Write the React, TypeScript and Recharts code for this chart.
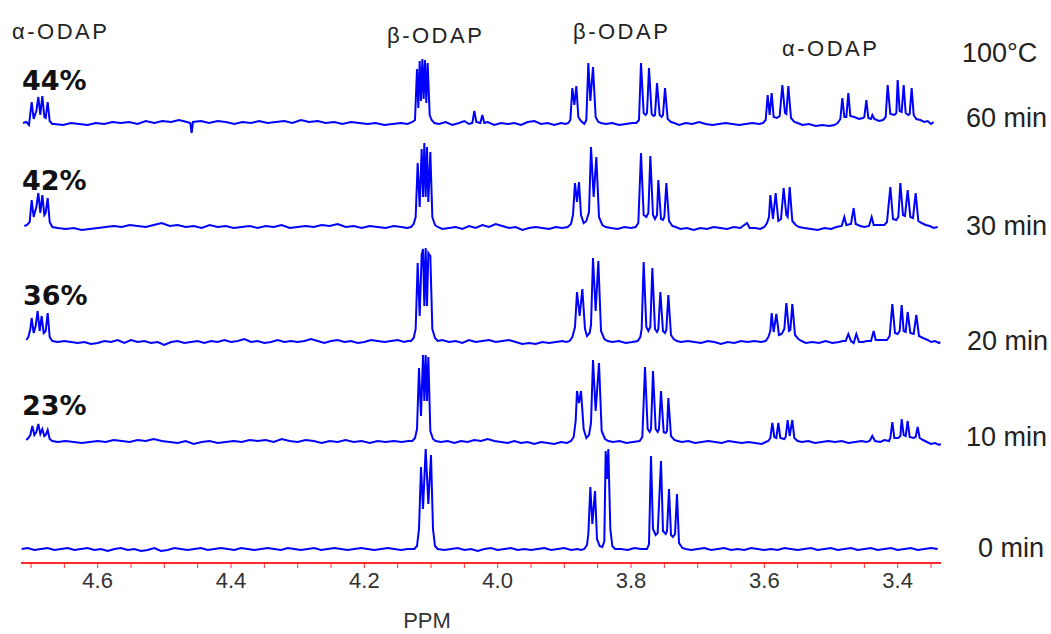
import React from 'react';
import { LineChart, Line, XAxis, YAxis } from 'recharts';

// x-axis ticks (ppm), labels shown on the 0.2 multiples
const X_TICKS = [4.7, 4.65, 4.6, 4.55, 4.5, 4.45, 4.4, 4.35, 4.3, 4.25, 4.2, 4.15, 4.1, 4.05, 4.0, 3.95, 3.9, 3.85, 3.8, 3.75, 3.7, 3.65, 3.6, 3.55, 3.5, 3.45, 3.4, 3.35];

const SPECTRUM_LABELS = ['60 min', '30 min', '20 min', '10 min', '0 min'];
const CONVERSION_LABELS = ['44%', '42%', '36%', '23%'];
const PEAK_LABELS = ['α-ODAP', 'β-ODAP', 'β-ODAP', 'α-ODAP'];
const TEMPERATURE = '100°C';
const X_TITLE = 'PPM';

// ---------- 60 min ----------
const peaks60: number[][] = [
  [4.712, 0], [4.707, 1], [4.703, -2], [4.699, 21], [4.696, 4], [4.692, 12], [4.689, 26], [4.686, 8], [4.683, 27], [4.680, 6], [4.678, 5], [4.675, 21], [4.672, 2], [4.668, -1],
  [4.128, 1], [4.124, 3], [4.121, 54], [4.119, 15], [4.117, 62], [4.115, 22], [4.113, 64], [4.111, 24], [4.109, 63], [4.107, 20], [4.105, 60], [4.102, 8], [4.099, 3], [4.095, 0],
  [4.038, 0], [4.035, 12], [4.032, 1], [4.026, 0], [4.023, 8], [4.020, 0],
  [3.894, 0], [3.891, 3], [3.888, 35], [3.885, 18], [3.882, 37], [3.879, 6], [3.875, 2], [3.870, -1], [3.867, 3], [3.864, 60], [3.861, 22], [3.857, 56], [3.853, 6], [3.849, 1], [3.845, 0],
  [3.792, 0], [3.788, 3], [3.785, 60], [3.781, 10], [3.778, 8], [3.776, 10], [3.773, 55], [3.769, 9], [3.766, 7], [3.764, 8], [3.761, 40], [3.757, 8], [3.754, 6], [3.752, 8], [3.749, 35], [3.745, 4], [3.740, 1], [3.735, 0],
  [3.602, 0], [3.598, 3], [3.595, 28], [3.592, 8], [3.589, 30], [3.586, 6], [3.581, 5], [3.577, 7], [3.573, 38], [3.569, 10], [3.567, 9], [3.564, 37], [3.560, 5], [3.555, 1], [3.550, 0],
  [3.490, 0], [3.486, 4], [3.483, 25], [3.480, 6], [3.477, 6], [3.474, 30], [3.471, 7], [3.465, 6], [3.458, 4], [3.452, 5], [3.450, 6], [3.447, 23], [3.444, 5], [3.440, 4], [3.438, 8], [3.435, 4],
  [3.422, 3], [3.418, 6], [3.415, 38], [3.411, 9], [3.405, 8], [3.402, 10], [3.400, 43], [3.397, 12], [3.394, 11], [3.391, 38], [3.388, 10], [3.384, 8], [3.382, 9], [3.379, 35], [3.376, 8], [3.372, 4], [3.366, 3], [3.360, 1],
];
const base60: number[][] = [
  [4.665, -1], [4.652, -2], [4.640, 0], [4.628, -1], [4.615, -2], [4.603, 0], [4.590, -1], [4.578, 1], [4.565, 0], [4.553, 1], [4.540, -1], [4.528, 2], [4.515, 0], [4.503, 2], [4.490, 1], [4.478, 3], [4.466, 1], [4.461, 0], [4.459, -10], [4.457, 1], [4.445, 2], [4.433, 0], [4.420, 2], [4.408, 1], [4.395, -1], [4.383, 1], [4.370, 0], [4.358, 2], [4.345, 0], [4.333, 1], [4.320, 2], [4.308, 0], [4.295, 3], [4.283, 1], [4.270, 2], [4.258, 0], [4.245, 1], [4.233, -1], [4.220, 1], [4.208, 0], [4.195, -1], [4.183, 0], [4.170, -2], [4.158, -1], [4.145, 0], [4.135, -1],
  [4.088, -1], [4.078, 1], [4.068, -2], [4.058, 0], [4.050, 2], [4.043, -1],
  [4.015, 1], [4.005, -2], [3.995, 0], [3.985, -1], [3.975, 0], [3.965, -2], [3.955, 1], [3.945, 2], [3.935, -1], [3.925, 0], [3.915, -2], [3.905, 0], [3.898, -1],
  [3.838, -1], [3.828, 0], [3.818, -2], [3.808, -1], [3.798, 0],
  [3.728, -2], [3.718, 0], [3.708, -1], [3.698, 1], [3.688, -1], [3.678, -2], [3.668, -1], [3.658, 0], [3.648, -1], [3.638, -2], [3.628, -1], [3.618, 0], [3.608, -1],
  [3.543, -2], [3.533, -1], [3.523, -3], [3.513, -2], [3.503, -3], [3.495, -2],
  [3.428, 2],
  [3.355, 2], [3.350, -1], [3.346, 1],
];

// ---------- 30 min ----------
const peaks30: number[][] = [
  [4.710, 1], [4.706, 2], [4.702, 5], [4.699, 27], [4.696, 10], [4.692, 20], [4.689, 34], [4.686, 14], [4.683, 32], [4.680, 12], [4.678, 14], [4.675, 29], [4.672, 5], [4.668, 0],
  [4.130, 0], [4.126, 3], [4.123, 10], [4.120, 64], [4.117, 20], [4.114, 78], [4.112, 30], [4.110, 84], [4.108, 30], [4.106, 80], [4.104, 25], [4.101, 75], [4.098, 10], [4.094, 2], [4.090, 0],
  [3.895, 0], [3.890, 3], [3.887, 12], [3.884, 44], [3.881, 25], [3.878, 45], [3.875, 12], [3.871, 4], [3.867, 6], [3.863, 15], [3.860, 80], [3.856, 30], [3.852, 70], [3.848, 10], [3.843, 2], [3.838, 0],
  [3.793, 0], [3.789, 4], [3.785, 74], [3.781, 12], [3.777, 10], [3.774, 14], [3.771, 71], [3.767, 12], [3.764, 8], [3.761, 12], [3.759, 47], [3.755, 8], [3.752, 7], [3.750, 10], [3.747, 44], [3.743, 6], [3.738, 1], [3.733, 0],
  [3.600, 0], [3.596, 4], [3.593, 10], [3.591, 32], [3.587, 8], [3.583, 34], [3.579, 6], [3.575, 8], [3.571, 39], [3.567, 12], [3.565, 10], [3.562, 40], [3.558, 6], [3.553, 2], [3.548, 0],
  [3.484, 1], [3.480, 10], [3.477, 2], [3.470, 3], [3.466, 19], [3.463, 3], [3.443, 1], [3.439, 10], [3.436, 2],
  [3.420, 2], [3.416, 5], [3.411, 40], [3.407, 8], [3.402, 7], [3.399, 10], [3.396, 44], [3.392, 12], [3.389, 11], [3.385, 37], [3.381, 10], [3.377, 9], [3.373, 34], [3.369, 6], [3.364, 4], [3.358, 2],
];
const base30: number[][] = [
  [4.660, -1], [4.648, -2], [4.636, -1], [4.624, -3], [4.612, -2], [4.600, -1], [4.588, 0], [4.576, 1], [4.564, 0], [4.552, 2], [4.540, 1], [4.528, 0], [4.516, 2], [4.504, 4], [4.492, 1], [4.480, 2], [4.468, 0], [4.456, 1], [4.444, -1], [4.432, 2], [4.420, 0], [4.408, 1], [4.396, -1], [4.384, 0], [4.372, 1], [4.360, -1], [4.348, 1], [4.336, 0], [4.324, 2], [4.312, -1], [4.300, 0], [4.288, 1], [4.276, 0], [4.264, 2], [4.252, 1], [4.240, 3], [4.228, 0], [4.216, 1], [4.204, -1], [4.192, 1], [4.180, 0], [4.168, -1], [4.156, 1], [4.144, 0], [4.136, -1],
  [4.083, -2], [4.073, -1], [4.063, 0], [4.053, -2], [4.043, 1], [4.033, -1], [4.023, 2], [4.013, 0], [4.003, 3], [3.993, 1], [3.983, -1], [3.973, 0], [3.963, -3], [3.953, -1], [3.943, 0], [3.933, -1], [3.923, -2], [3.913, 0], [3.903, -1],
  [3.830, -1], [3.820, -2], [3.810, 0], [3.800, -1],
  [3.726, -2], [3.716, -1], [3.706, -3], [3.696, -1], [3.686, -2], [3.676, 0], [3.666, -1], [3.656, -2], [3.646, 0], [3.636, -1], [3.626, 4], [3.622, -1], [3.614, -1], [3.606, -2],
  [3.540, -1], [3.530, -2], [3.520, -3], [3.510, -1], [3.500, -2], [3.492, 0],
  [3.456, 1], [3.450, 0], [3.428, 2],
  [3.352, 1], [3.346, -1], [3.340, 0],
];

// ---------- 20 min ----------
const peaks20: number[][] = [
  [4.707, 1], [4.704, 4], [4.701, 12], [4.699, 23], [4.696, 8], [4.693, 15], [4.690, 30], [4.687, 10], [4.684, 25], [4.681, 8], [4.678, 10], [4.675, 28], [4.672, 4], [4.668, 0],
  [4.130, 0], [4.126, 3], [4.123, 12], [4.120, 78], [4.117, 25], [4.114, 86], [4.112, 92], [4.110, 35], [4.108, 93], [4.106, 35], [4.104, 88], [4.101, 85], [4.098, 12], [4.094, 3], [4.090, 0],
  [3.892, 0], [3.888, 4], [3.884, 14], [3.881, 49], [3.877, 25], [3.873, 52], [3.869, 12], [3.866, 5], [3.862, 8], [3.860, 16], [3.857, 83], [3.853, 30], [3.849, 80], [3.845, 10], [3.840, 2], [3.835, 0],
  [3.790, 0], [3.786, 4], [3.784, 12], [3.781, 79], [3.777, 14], [3.774, 10], [3.771, 14], [3.768, 73], [3.764, 12], [3.761, 9], [3.759, 12], [3.756, 49], [3.752, 10], [3.749, 8], [3.747, 11], [3.744, 46], [3.740, 6], [3.736, 2], [3.731, 0],
  [3.598, 0], [3.594, 4], [3.591, 10], [3.589, 28], [3.586, 9], [3.582, 27], [3.578, 6], [3.574, 7], [3.570, 12], [3.567, 38], [3.563, 10], [3.561, 11], [3.558, 37], [3.554, 6], [3.549, 2], [3.544, 0],
  [3.478, 0], [3.474, 7], [3.470, 0], [3.466, -2], [3.462, 7], [3.458, -1], [3.440, 0], [3.436, 10], [3.433, 1],
  [3.416, 1], [3.412, 5], [3.408, 37], [3.404, 8], [3.400, 7], [3.397, 10], [3.394, 36], [3.391, 10], [3.388, 9], [3.385, 29], [3.381, 8], [3.376, 7], [3.372, 26], [3.368, 5], [3.362, 3], [3.355, 1],
];
const base20: number[][] = [
  [4.660, -1], [4.650, 0], [4.640, -1], [4.630, -2], [4.620, -1], [4.610, -3], [4.600, -2], [4.590, 0], [4.580, -1], [4.570, 1], [4.560, -2], [4.550, 1], [4.540, -1], [4.530, 0], [4.520, -2], [4.510, -1], [4.500, -4], [4.490, -1], [4.480, 0], [4.470, -2], [4.460, -1], [4.450, 0], [4.440, -2], [4.430, 0], [4.420, -1], [4.410, 1], [4.400, -1], [4.390, 0], [4.380, 2], [4.370, -1], [4.360, 0], [4.350, -2], [4.340, -1], [4.330, 1], [4.320, -1], [4.310, 0], [4.300, -1], [4.290, 0], [4.280, 2], [4.270, 0], [4.260, -2], [4.250, 0], [4.240, 1], [4.230, -1], [4.220, 0], [4.210, -2], [4.200, -1], [4.190, 1], [4.180, 0], [4.170, -1], [4.160, 0], [4.150, 1], [4.140, -1], [4.135, 0],
  [4.083, 1], [4.073, -1], [4.063, 0], [4.053, -2], [4.043, 1], [4.033, -1], [4.023, 0], [4.013, 1], [4.003, -1], [3.993, 0], [3.983, 1], [3.973, -1], [3.963, -3], [3.953, -2], [3.943, -3], [3.933, -1], [3.923, -2], [3.913, -1], [3.903, 0], [3.897, -1],
  [3.828, -1], [3.818, 0], [3.808, -2], [3.798, -1],
  [3.725, -1], [3.715, 0], [3.705, -1], [3.695, -2], [3.685, 0], [3.675, -1], [3.665, -3], [3.655, -1], [3.645, -2], [3.635, 0], [3.625, -1], [3.615, 0], [3.605, -1],
  [3.538, -2], [3.528, -1], [3.518, -2], [3.508, 0], [3.498, -2], [3.488, -1], [3.482, 0],
  [3.452, -1], [3.446, 0], [3.425, 1],
  [3.350, -1], [3.344, 0], [3.338, -2], [3.336, -1],
];

// ---------- 10 min ----------
const peaks10: number[][] = [
  [4.707, 1], [4.704, 3], [4.701, 6], [4.698, 15], [4.695, 6], [4.692, 9], [4.689, 17], [4.686, 7], [4.683, 12], [4.680, 5], [4.678, 6], [4.675, 11], [4.672, 2], [4.668, 0],
  [4.128, 0], [4.124, 3], [4.121, 12], [4.118, 73], [4.115, 25], [4.112, 86], [4.110, 40], [4.108, 86], [4.106, 40], [4.104, 84], [4.101, 10], [4.097, 2], [4.093, 0],
  [3.890, 0], [3.886, 4], [3.883, 20], [3.881, 50], [3.878, 38], [3.875, 50], [3.871, 12], [3.867, 3], [3.863, 6], [3.860, 18], [3.857, 81], [3.853, 30], [3.848, 78], [3.844, 10], [3.839, 2], [3.834, 0],
  [3.787, 0], [3.783, 4], [3.779, 74], [3.775, 12], [3.772, 9], [3.770, 12], [3.767, 70], [3.763, 12], [3.760, 9], [3.758, 12], [3.755, 50], [3.751, 9], [3.748, 8], [3.746, 10], [3.744, 43], [3.740, 5], [3.735, 1], [3.730, 0],
  [3.594, 0], [3.591, 3], [3.588, 18], [3.585, 4], [3.582, 3], [3.579, 18], [3.576, 3], [3.570, 2], [3.568, 4], [3.565, 21], [3.562, 5], [3.558, 21], [3.555, 3], [3.550, 0],
  [3.442, 0], [3.438, 5], [3.434, 0],
  [3.413, 0], [3.411, 3], [3.408, 19], [3.405, 3], [3.399, 3], [3.396, 5], [3.394, 22], [3.391, 6], [3.388, 5], [3.385, 20], [3.382, 4], [3.376, 3], [3.373, 4], [3.370, 14], [3.367, 3], [3.362, 1],
];
const base10: number[][] = [
  [4.660, -1], [4.648, 0], [4.636, -1], [4.624, -2], [4.612, -1], [4.600, 0], [4.588, -1], [4.576, 1], [4.564, 0], [4.552, -1], [4.540, 1], [4.528, 0], [4.516, 2], [4.504, 0], [4.492, -1], [4.480, -2], [4.468, 0], [4.456, -3], [4.444, -1], [4.432, 0], [4.420, -2], [4.408, -1], [4.396, 0], [4.384, -1], [4.372, 1], [4.360, 0], [4.348, 1], [4.336, -1], [4.324, 2], [4.312, 0], [4.300, -1], [4.288, 1], [4.276, 0], [4.264, -2], [4.252, 0], [4.240, -1], [4.228, 1], [4.216, -1], [4.204, 0], [4.192, -2], [4.180, 0], [4.168, -1], [4.156, 0], [4.144, -1], [4.134, 0],
  [4.085, -1], [4.075, 0], [4.065, -2], [4.055, 0], [4.045, -1], [4.035, 1], [4.025, 0], [4.015, 2], [4.005, 0], [3.995, -1], [3.985, -2], [3.975, 0], [3.965, -2], [3.955, -1], [3.945, -3], [3.935, -1], [3.925, -2], [3.915, -3], [3.905, -1], [3.896, -2],
  [3.827, -1], [3.817, 0], [3.807, -2], [3.797, -1],
  [3.724, -1], [3.714, 0], [3.704, -2], [3.694, -1], [3.684, 0], [3.674, -1], [3.664, -2], [3.654, 0], [3.644, -1], [3.634, -2], [3.624, -1], [3.614, -2], [3.604, -3], [3.598, -1],
  [3.544, -1], [3.534, 0], [3.524, -2], [3.514, -1], [3.504, 0], [3.494, -1], [3.484, 0], [3.474, -2], [3.464, -1], [3.454, 0], [3.447, -1],
  [3.426, -1], [3.420, 1],
  [3.356, -1], [3.350, -3], [3.344, -2], [3.338, -4], [3.335, -3],
];

// ---------- 0 min ----------
const peaks0: number[][] = [
  [4.125, 0], [4.121, 3], [4.118, 20], [4.115, 82], [4.112, 40], [4.108, 100], [4.104, 45], [4.100, 94], [4.097, 20], [4.094, 3], [4.090, 0],
  [3.870, 0], [3.866, 4], [3.864, 15], [3.861, 62], [3.858, 25], [3.854, 58], [3.851, 10], [3.847, 3], [3.843, 2], [3.840, 8], [3.838, 98], [3.836, 70], [3.834, 100], [3.831, 20], [3.828, 3], [3.824, 0],
  [3.776, 0], [3.773, 5], [3.770, 93], [3.767, 20], [3.763, 14], [3.760, 16], [3.755, 88], [3.752, 18], [3.748, 15], [3.746, 18], [3.743, 60], [3.740, 14], [3.737, 12], [3.734, 15], [3.731, 55], [3.728, 6], [3.723, 1], [3.718, 0],
];
const base0: number[][] = [
  [4.714, 0], [4.705, 1], [4.695, -1], [4.685, 0], [4.675, 1], [4.665, -1], [4.655, 0], [4.645, 1], [4.635, -1], [4.625, 0], [4.615, 1], [4.605, -1], [4.595, 0], [4.585, -2], [4.575, 0], [4.565, 1], [4.555, -1], [4.545, 0], [4.535, -2], [4.525, -1], [4.515, 1], [4.505, -2], [4.495, -1], [4.485, 1], [4.475, 0], [4.465, -1], [4.455, 0], [4.445, 1], [4.435, -1], [4.425, 0], [4.415, 1], [4.405, 0], [4.395, -1], [4.385, 1], [4.375, 0], [4.365, -1], [4.355, 0], [4.345, 1], [4.335, 0], [4.325, -1], [4.315, 1], [4.305, 0], [4.295, -1], [4.285, 0], [4.275, 1], [4.265, -1], [4.255, 0], [4.245, 1], [4.235, 0], [4.225, -1], [4.215, 0], [4.205, 1], [4.195, 0], [4.185, -1], [4.175, 0], [4.165, 1], [4.155, 0], [4.145, -1], [4.135, 0],
  [4.080, -1], [4.070, 0], [4.060, 1], [4.050, -1], [4.040, 0], [4.030, -2], [4.020, 0], [4.010, 1], [4.000, -1], [3.990, 0], [3.980, 1], [3.970, -1], [3.960, 0], [3.950, -1], [3.940, 0], [3.930, 1], [3.920, -1], [3.910, 0], [3.900, 1], [3.890, -1], [3.880, 0], [3.875, -1],
  [3.815, 0], [3.805, -1], [3.795, 1], [3.785, 0],
  [3.710, -1], [3.700, 0], [3.690, 1], [3.680, -1], [3.670, 0], [3.660, 1], [3.650, -1], [3.640, 0], [3.630, -1], [3.620, 1], [3.610, 0], [3.600, -1], [3.590, 0], [3.580, -1], [3.570, 1], [3.560, 0], [3.550, -1], [3.540, 0], [3.530, 1], [3.520, -1], [3.510, 0], [3.500, 1], [3.490, -1], [3.480, 0], [3.470, 1], [3.460, -1], [3.450, 0], [3.440, 1], [3.430, -1], [3.420, 0], [3.410, 1], [3.400, -1], [3.390, 0], [3.380, 1], [3.370, -1], [3.360, 0], [3.350, 1], [3.340, 0],
];

// vertical stacking of the traces (layout)
const OFFSETS = [440, 336, 222, 122, 14];

const build = (peaks: number[][], base: number[][], offset: number) =>
  [...peaks, ...base]
    .sort((a, b) => b[0] - a[0])
    .map(([ppm, v]) => ({ ppm, y: v + offset }));

const SERIES = [
  build(peaks60, base60, OFFSETS[0]),
  build(peaks30, base30, OFFSETS[1]),
  build(peaks20, base20, OFFSETS[2]),
  build(peaks10, base10, OFFSETS[3]),
  build(peaks0, base0, OFFSETS[4]),
];

const SANS = "'Liberation Sans', Arial, sans-serif";

const PpmTick = (props: any) => {
  const { x, y, payload } = props;
  const v = payload.value as number;
  const major = Math.abs(v * 5 - Math.round(v * 5)) < 1e-6;
  if (!major) return <g />;
  return (
    <text x={x} y={y} dy={18} textAnchor="middle" fontFamily={SANS} fontSize={22} fill="#333">
      {v.toFixed(1)}
    </text>
  );
};

// full page (body margin removed)
const W = 1051;
const H = 634;

export default function App() {
  return (
    <div style={{ position: 'relative', width: W, height: H, overflow: 'hidden' }}>
      <style>{'html,body{margin:0;padding:0;overflow:hidden;}'}</style>
      <LineChart width={W} height={H} margin={{ top: 20, right: 110, bottom: 41, left: 21 }}>
        <XAxis
          type="number"
          dataKey="ppm"
          domain={[3.335, 4.715]}
          reversed
          ticks={X_TICKS}
          interval={0}
          allowDataOverflow
          stroke="#ff2a2a"
          strokeWidth={2}
          tickSize={5}
          tickLine={{ stroke: '#ff2a2a', strokeWidth: 1 }}
          tick={<PpmTick />}
          height={30}
        />
        <YAxis hide type="number" domain={[0, 543]} allowDataOverflow />
        {SERIES.map((d, i) => (
          <Line
            key={i}
            data={d}
            dataKey="y"
            type="linear"
            stroke="#0000ff"
            strokeWidth={2}
            dot={false}
            activeDot={false}
            isAnimationActive={false}
          />
        ))}
      </LineChart>
      <svg width={W} height={H} style={{ position: 'absolute', left: 0, top: 0, pointerEvents: 'none' }}>
        <g fontFamily={SANS} fontSize={22} fill="#222" letterSpacing={2.5}>
          <text x={12} y={39}>{PEAK_LABELS[0]}</text>
          <text x={387} y={43}>{PEAK_LABELS[1]}</text>
          <text x={573} y={39}>{PEAK_LABELS[2]}</text>
          <text x={782} y={56}>{PEAK_LABELS[3]}</text>
        </g>
        <g fontFamily={SANS} fontSize={27} fill="#222">
          <text x={962} y={62}>{TEMPERATURE}</text>
          <text x={1047} y={127} textAnchor="end">{SPECTRUM_LABELS[0]}</text>
          <text x={1047} y={235} textAnchor="end">{SPECTRUM_LABELS[1]}</text>
          <text x={1048} y={350} textAnchor="end">{SPECTRUM_LABELS[2]}</text>
          <text x={1047} y={446} textAnchor="end">{SPECTRUM_LABELS[3]}</text>
          <text x={1044} y={557} textAnchor="end">{SPECTRUM_LABELS[4]}</text>
        </g>
        <g fontFamily="'DejaVu Sans', sans-serif" fontWeight="bold" fontSize={27} fill="#111">
          <text x={22} y={90}>{CONVERSION_LABELS[0]}</text>
          <text x={22} y={190}>{CONVERSION_LABELS[1]}</text>
          <text x={23} y={305}>{CONVERSION_LABELS[2]}</text>
          <text x={22} y={415}>{CONVERSION_LABELS[3]}</text>
        </g>
        <text x={427} y={628} textAnchor="middle" fontFamily={SANS} fontSize={22} fill="#333">{X_TITLE}</text>
      </svg>
    </div>
  );
}
